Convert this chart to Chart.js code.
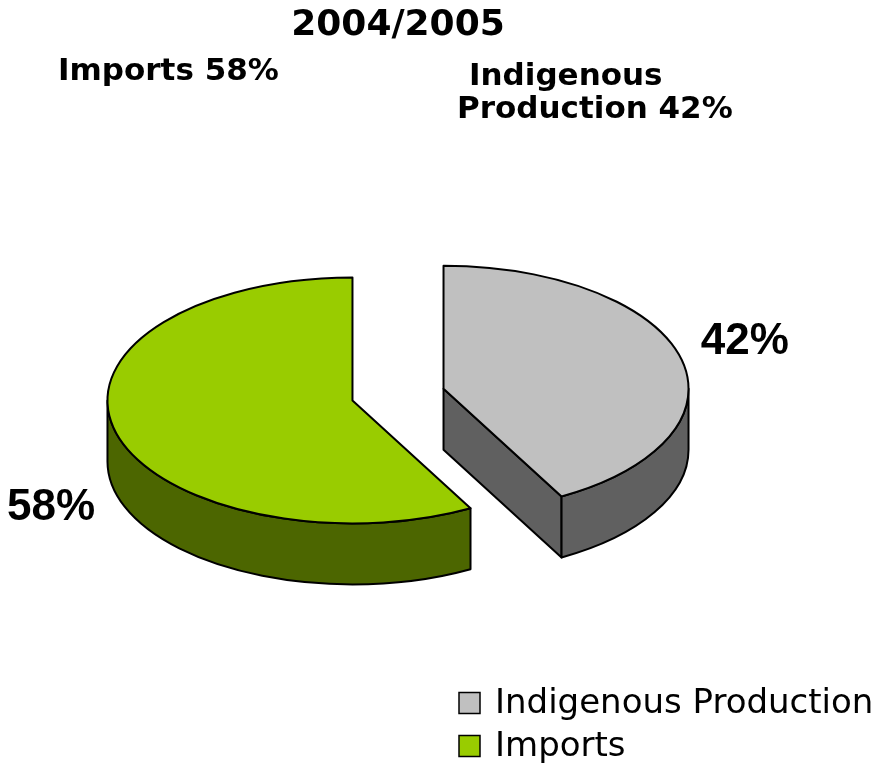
<!DOCTYPE html>
<html><head><meta charset="utf-8">
<script src="https://cdn.jsdelivr.net/npm/chart.js@4.4.1/dist/chart.umd.min.js"></script>
<style>html,body{margin:0;padding:0;background:#fff}#wrap{width:881px;height:766px;position:relative}</style>
</head><body><div id="wrap"><canvas id="c" width="881" height="766"></canvas></div>
<script>
const categories = ['Indigenous Production', 'Imports'];
const shares = [42, 58];
const topColors = ['#C0C0C0', '#99CC00'];
const sideColors = ['#606060', '#4C6600'];
const titleText = '2004/2005';

const pie3d = {
  id: 'pie3d',
  beforeDatasetDraw(chart, args, opts) {
    const ctx = chart.ctx;
    const meta = args.meta;
    const ds = chart.data.datasets[args.index];
    const k = opts.tilt, d = opts.depth, ex = opts.explode;
    const slices = meta.data.map((arc, i) => {
      const p = arc.getProps(['x', 'y', 'startAngle', 'endAngle', 'outerRadius'], true);
      const mid = (p.startAngle + p.endAngle) / 2;
      return { i, a0: p.startAngle, a1: p.endAngle, r: p.outerRadius, mid,
        cx: p.x + Math.cos(mid) * ex, cy: p.y + Math.sin(mid) * ex * k };
    });
    chart.$pie3d = { slices, k, d };
    const pt = (s, t) => [s.cx + Math.cos(t) * s.r, s.cy + Math.sin(t) * s.r * k];
    ctx.save();
    ctx.lineWidth = opts.lineWidth;
    ctx.strokeStyle = ds.borderColor;
    ctx.lineJoin = 'round';
    slices.slice().sort((a, b) => a.cy - b.cy).forEach(s => {
      const side = opts.sideColors[s.i];
      const faces = [];
      if (Math.cos(s.a0) < -1e-6) faces.push(s.a0);
      if (Math.cos(s.a1) > 1e-6) faces.push(s.a1);
      faces.forEach(a => {
        const e = pt(s, a);
        ctx.beginPath();
        ctx.moveTo(s.cx, s.cy);
        ctx.lineTo(e[0], e[1]);
        ctx.lineTo(e[0], e[1] + d);
        ctx.lineTo(s.cx, s.cy + d);
        ctx.closePath();
        ctx.fillStyle = side; ctx.fill(); ctx.stroke();
      });
      for (const sh of [-2 * Math.PI, 0, 2 * Math.PI]) {
        const ts = Math.max(s.a0, sh), te = Math.min(s.a1, sh + Math.PI);
        if (te - ts > 1e-6) {
          ctx.beginPath();
          ctx.ellipse(s.cx, s.cy, s.r, s.r * k, 0, ts, te, false);
          ctx.ellipse(s.cx, s.cy + d, s.r, s.r * k, 0, te, ts, true);
          ctx.closePath();
          ctx.fillStyle = side; ctx.fill(); ctx.stroke();
        }
      }
      ctx.beginPath();
      ctx.moveTo(s.cx, s.cy);
      ctx.ellipse(s.cx, s.cy, s.r, s.r * k, 0, s.a0, s.a1, false);
      ctx.closePath();
      ctx.fillStyle = ds.backgroundColor[s.i]; ctx.fill(); ctx.stroke();
    });
    ctx.restore();
    return false;
  },
  afterDraw(chart, args, opts) {
    const ctx = chart.ctx;
    const st = chart.$pie3d;
    if (!st) return;
    const vals = chart.data.datasets[0].data;
    const total = vals.reduce((a, b) => a + b, 0);
    ctx.save();
    ctx.fillStyle = '#000';
    ctx.font = opts.labelFont;
    ctx.textAlign = 'center';
    ctx.textBaseline = 'middle';
    st.slices.forEach(s => {
      const R = opts.labelDist * s.r;
      const sn = Math.sin(s.mid);
      const x = s.cx + Math.cos(s.mid) * R;
      const y = s.cy + sn * R * opts.labelTilt + (sn > 0 ? st.d : 0);
      ctx.fillText(Math.round(vals[s.i] / total * 100) + '%', x, y);
    });
    ctx.font = opts.noteFont;
    ctx.textAlign = 'left';
    ctx.textBaseline = 'alphabetic';
    const pct = i => Math.round(vals[i] / total * 100) + '%';
    ctx.fillText(chart.data.labels[1] + ' ' + pct(1), 58, 80);
    const words = chart.data.labels[0].split(' ');
    ctx.fillText(words[0], 469, 85);
    ctx.fillText(words[1] + ' ' + pct(0), 457, 118);
    const lg = opts.legend;
    ctx.font = lg.font;
    ctx.textBaseline = 'middle';
    chart.data.labels.forEach((lab, i) => {
      const yc = lg.y + i * lg.rowGap;
      ctx.fillStyle = chart.data.datasets[0].backgroundColor[i];
      ctx.fillRect(lg.x, yc - lg.box / 2, lg.box, lg.box);
      ctx.lineWidth = 1.5;
      ctx.strokeStyle = '#000';
      ctx.strokeRect(lg.x, yc - lg.box / 2, lg.box, lg.box);
      ctx.fillStyle = '#000';
      ctx.fillText(lab, lg.x + lg.box + 15, yc + 1);
    });
    ctx.restore();
  }
};

new Chart(document.getElementById('c'), {
  type: 'pie',
  data: {
    labels: categories,
    datasets: [{
      data: shares,
      backgroundColor: topColors,
      borderColor: '#000000',
      borderWidth: 2
    }]
  },
  options: {
    responsive: false,
    animation: false,
    radius: 245,
    layout: { padding: { left: 0, right: 85, top: 0, bottom: 24 } },
    plugins: {
      legend: { display: false },
      tooltip: { enabled: false },
      title: {
        display: true,
        text: titleText,
        color: '#000',
        font: { family: 'DejaVu Sans', weight: 'bold', size: 36, lineHeight: 1.2 },
        padding: { top: 4, bottom: 0 }
      },
      pie3d: {
        tilt: 0.502,
        depth: 61,
        explode: 47,
        lineWidth: 2,
        sideColors: sideColors,
        labelDist: 1.27,
        labelTilt: 0.6,
        labelFont: 'bold 44px "Liberation Sans", Arial, sans-serif',
        noteFont: 'bold 31px "DejaVu Sans", sans-serif',
        legend: { x: 459, y: 703, rowGap: 43, box: 21, font: '34px "DejaVu Sans", sans-serif' }
      }
    }
  },
  plugins: [pie3d]
});
</script>
</body></html>
